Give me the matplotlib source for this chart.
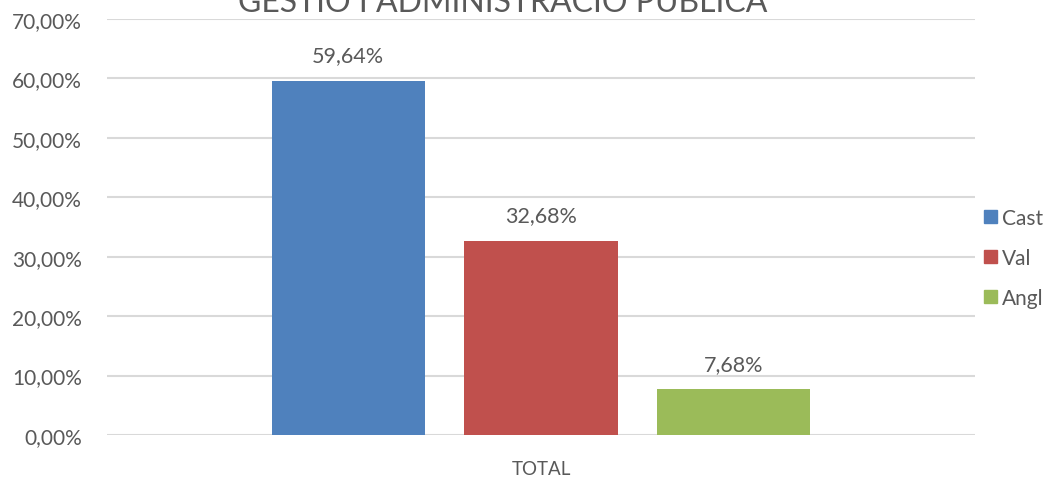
import matplotlib

matplotlib.use("Agg")
import matplotlib.pyplot as plt
from matplotlib.patches import Patch

TITLE = "GESTIÓ I ADMINISTRACIÓ PÚBLICA"
CATEGORY = "TOTAL"
SERIES = ["Cast", "Val", "Angl"]
VALUES = [59.64, 32.68, 7.68]
COLORS = ["#4F81BD", "#C0504D", "#9BBB59"]
YTICKS = [0, 10, 20, 30, 40, 50, 60, 70]

TEXT = "#595959"
GRID = "#D9D9D9"
plt.rcParams["font.family"] = ["Lato", "DejaVu Sans"]

W, H = 1053, 481
fig = plt.figure(figsize=(W / 100, H / 100), dpi=100)
ax = fig.add_axes([107 / W, (H - 436) / H, 868 / W, 416 / H])

pos = [-1, 0, 1]
for x, v, c in zip(pos, VALUES, COLORS):
    ax.bar(x, v, width=0.793, color=c, zorder=3)
    ax.text(x, v + 2.6, f"{v:.2f}%".replace(".", ","), ha="center", va="bottom",
            fontsize=15.5, color=TEXT)

ax.set_xlim(-2.249, 2.249)
ax.set_ylim(0, 70)
ax.set_yticks(YTICKS)
ax.set_yticklabels([f"{t:.2f}%".replace(".", ",") for t in YTICKS],
                   fontsize=15, color=TEXT)
ax.set_xticks([0])
ax.set_xticklabels([CATEGORY], fontsize=13.5, color=TEXT)
ax.tick_params(axis="y", length=0, pad=18)
ax.tick_params(axis="x", length=0, pad=18)
ax.yaxis.grid(True, color=GRID, lw=1.5, zorder=0)
for s in ax.spines.values():
    s.set_visible(False)

fig.text(503 / W, 1 - 12 / H, TITLE, ha="center", va="baseline",
         fontsize=23, color=TEXT)

handles = [Patch(color=c, label=s) for s, c in zip(SERIES, COLORS)]
fig.legend(handles=handles, loc="center left", bbox_to_anchor=(984 / W, 1 - 259 / H),
           frameon=False, fontsize=15, handlelength=0.6, handleheight=0.6,
           handletextpad=0.25, labelspacing=0.95, labelcolor=TEXT, borderaxespad=0,
           borderpad=0)

fig.savefig("out.png", dpi=100)
